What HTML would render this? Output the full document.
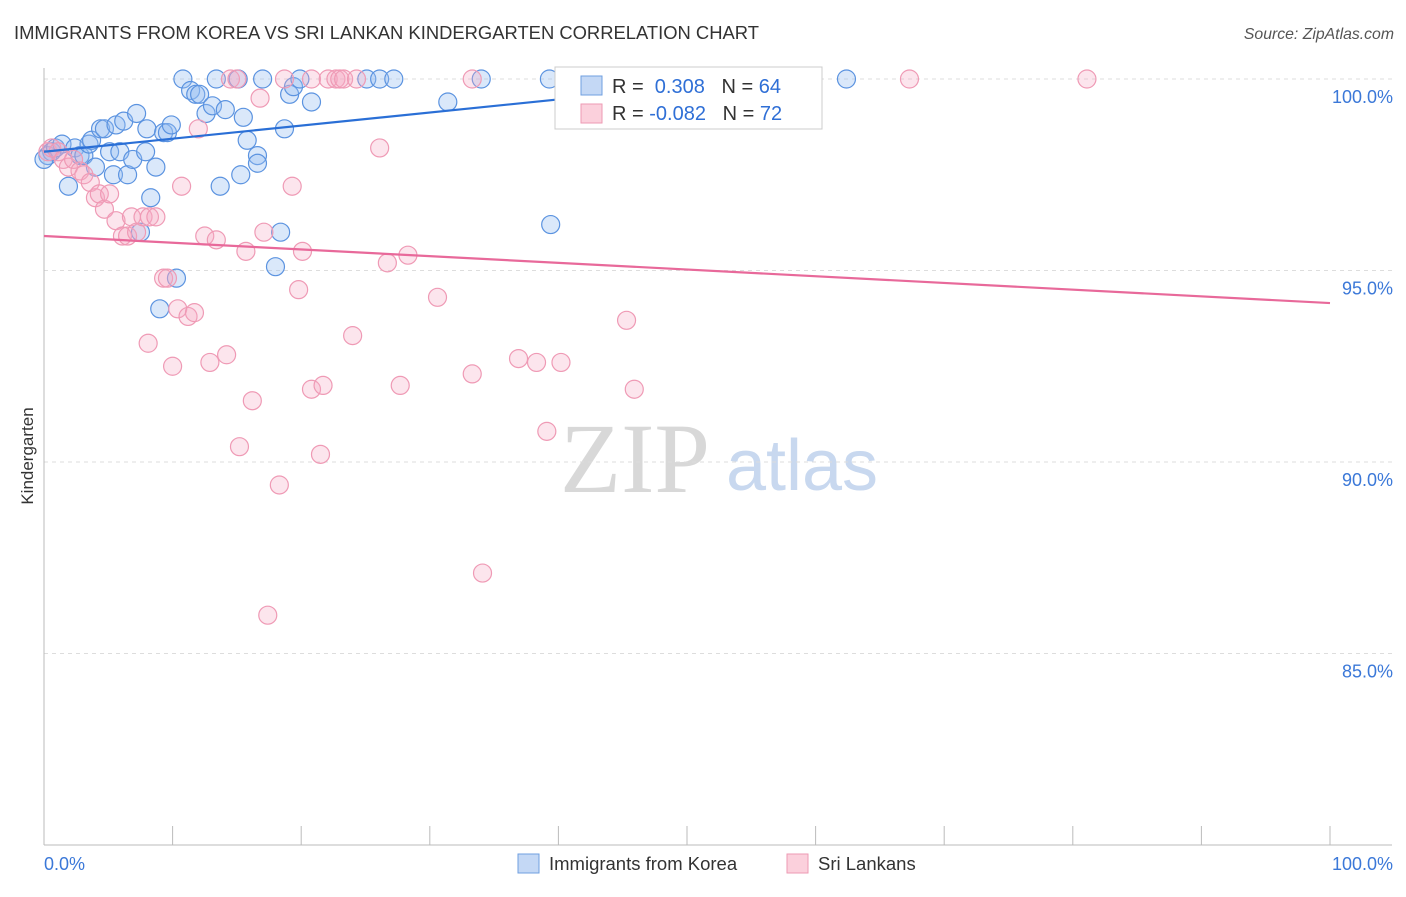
<!DOCTYPE html>
<html><head><meta charset="utf-8"><style>
body{margin:0;background:#fff;font-family:"Liberation Sans",sans-serif}
</style></head><body>
<svg id="c" width="1406" height="892" xmlns="http://www.w3.org/2000/svg" font-family="Liberation Sans, sans-serif">
<text x="14" y="39" font-size="18.4" fill="#333">IMMIGRANTS FROM KOREA VS SRI LANKAN KINDERGARTEN CORRELATION CHART</text>
<text x="1394" y="39" font-size="15.8" fill="#555" font-style="italic" text-anchor="end">Source: ZipAtlas.com</text>
<text x="33" y="456" font-size="17" fill="#333" text-anchor="middle" transform="rotate(-90 33 456)">Kindergarten</text>
<g><text x="635" y="492" font-size="100" fill="#d8d8d8" style="font-family:'Liberation Serif',serif" text-anchor="middle">ZIP</text><text x="802" y="490" font-size="72" fill="#c8d8ef" text-anchor="middle">atlas</text></g>
<g id="grid"></g><g id="marks"></g>
<g>
<rect x="555" y="67" width="267" height="62" fill="#fff" stroke="#ccc"/>
<rect x="581" y="76" width="21" height="19" fill="#c4d8f5" stroke="#6f9fe0"/>
<rect x="581" y="104" width="21" height="19" fill="#fbd0dc" stroke="#ee9ab3"/>
<text x="612" y="93" font-size="20" fill="#333">R = <tspan fill="#2f6fd6">&#160;0.308</tspan>&#160;&#160;&#160;N = <tspan fill="#2f6fd6">64</tspan></text>
<text x="612" y="120" font-size="20" fill="#333">R = <tspan fill="#2f6fd6">-0.082</tspan>&#160;&#160;&#160;N = <tspan fill="#2f6fd6">72</tspan></text>
</g>
<g>
<rect x="518" y="854" width="21" height="19" fill="#c4d8f5" stroke="#6f9fe0"/>
<text x="549" y="870" font-size="18.5" fill="#333">Immigrants from Korea</text>
<rect x="787" y="854" width="21" height="19" fill="#fbd0dc" stroke="#ee9ab3"/>
<text x="818" y="870" font-size="18.5" fill="#333">Sri Lankans</text>
</g>
</svg>
<script>
const yTicks=[100,95,90,85];
const yTickLabels=["100.0%","95.0%","90.0%","85.0%"];
const xTickLabels=["0.0%","100.0%"];
const koreaX=[0.3,0.6,0.9,1.4,1.9,2.4,2.8,3.1,3.5,3.7,4.0,4.4,4.7,5.1,5.4,5.6,5.9,6.2,6.5,6.9,7.2,7.5,7.9,8.0,8.3,8.7,9.0,9.3,9.6,9.9,10.3,10.8,11.4,11.8,12.1,12.6,13.1,13.4,13.7,14.1,15.1,15.3,15.5,15.8,16.6,16.6,17.0,18.0,18.4,18.7,19.1,19.4,19.9,20.8,25.1,26.1,27.2,31.4,34.0,39.3,39.4,62.4,0];
const koreaY=[98.0,98.1,98.2,98.3,97.2,98.2,98.0,98.0,98.3,98.4,97.7,98.7,98.7,98.1,97.5,98.8,98.1,98.9,97.5,97.9,99.1,96.0,98.1,98.7,96.9,97.7,94.0,98.6,98.6,98.8,94.8,100,99.7,99.6,99.6,99.1,99.3,100,97.2,99.2,100,97.5,99.0,98.4,98.0,97.8,100,95.1,96.0,98.7,99.6,99.8,100,99.4,100,100,100,99.4,100,100,96.2,100,97.9];
const lankaX=[0.3,0.6,1.1,1.5,1.9,2.3,2.8,3.1,3.6,4.0,4.3,4.7,5.1,5.6,6.1,6.5,6.8,7.2,7.7,8.2,8.7,8.1,9.3,9.6,10.0,10.4,10.7,11.2,11.7,12.0,12.5,12.9,13.4,14.2,15.2,15.7,16.2,16.8,17.1,17.4,18.3,18.7,19.3,19.8,20.1,20.8,21.5,21.7,20.8,22.1,22.7,23.0,23.3,24.0,24.3,26.1,26.7,27.7,28.3,30.6,33.3,33.3,34.1,36.9,38.3,39.1,40.2,41.3,45.3,45.9,67.3,81.1,14.5,15.0];
const lankaY=[98.1,98.2,98.1,97.9,97.7,97.9,97.6,97.5,97.3,96.9,97.0,96.6,97.0,96.3,95.9,95.9,96.4,96.0,96.4,96.4,96.4,93.1,94.8,94.8,92.5,94.0,97.2,93.8,93.9,98.7,95.9,92.6,95.8,92.8,90.4,95.5,91.6,99.5,96.0,86.0,89.4,100,97.2,94.5,95.5,91.9,90.2,92.0,100,100,100,100,100,93.3,100,98.2,95.2,92.0,95.4,94.3,100,92.3,87.1,92.7,92.6,90.8,92.6,100,93.7,91.9,100,100,100,100];
const koreaTrend=[[0,98.1],[55.6,100.0]];
const lankaTrend=[[0,95.9],[100,94.15]];
const NS="http://www.w3.org/2000/svg";
const sx=v=>44+v*12.86, sy=v=>79+(100-v)*38.3;
function mk(t,a,p){const e=document.createElementNS(NS,t);for(const k in a)e.setAttribute(k,a[k]);p.appendChild(e);return e;}
const g=document.getElementById('grid'),m=document.getElementById('marks');
yTicks.forEach((t,i)=>{
 const l=mk('line',{x1:44,x2:1392,y1:sy(t),y2:sy(t),stroke:'#ddd','stroke-dasharray':'4,4'},g);
 
 
 const tx=mk('text',{x:1393,y:sy(t)+24,'font-size':18,fill:'#3b78d8','text-anchor':'end'},g);tx.textContent=yTickLabels[i];
 
 
});
mk('line',{x1:44,x2:44,y1:68,y2:845,stroke:'#bbb'},g);
mk('line',{x1:44,x2:1392,y1:845,y2:845,stroke:'#bbb'},g);
for(let i=0;i<=10;i++){const t=mk('line',{x1:sx(i*10),x2:sx(i*10),y1:826,y2:845,stroke:'#bbb'},g);
 
 }
[[0,'start',44],[100,'end',1393]].forEach((d,i)=>{const tx=mk('text',{x:d[2],y:870,'font-size':18,fill:'#3b78d8','text-anchor':d[1]},g);tx.textContent=xTickLabels[i];
 
 });
koreaX.forEach((x,i)=>{const c=mk('circle',{cx:sx(x),cy:sy(koreaY[i]),r:9,fill:'rgba(150,190,240,0.35)',stroke:'#5b93e0','stroke-width':1.2},m);
 
 });
lankaX.forEach((x,i)=>{const c=mk('circle',{cx:sx(x),cy:sy(lankaY[i]),r:9,fill:'rgba(245,170,195,0.3)',stroke:'#ef9ab5','stroke-width':1.2},m);
 
 });
const kt=mk('line',{x1:sx(koreaTrend[0][0]),y1:sy(koreaTrend[0][1]),x2:sx(koreaTrend[1][0]),y2:sy(koreaTrend[1][1]),stroke:'#2a6fd6','stroke-width':2.2},m);


const lt=mk('line',{x1:sx(lankaTrend[0][0]),y1:sy(lankaTrend[0][1]),x2:sx(lankaTrend[1][0]),y2:sy(lankaTrend[1][1]),stroke:'#e8699a','stroke-width':2.2},m);


</script>
</body></html>
